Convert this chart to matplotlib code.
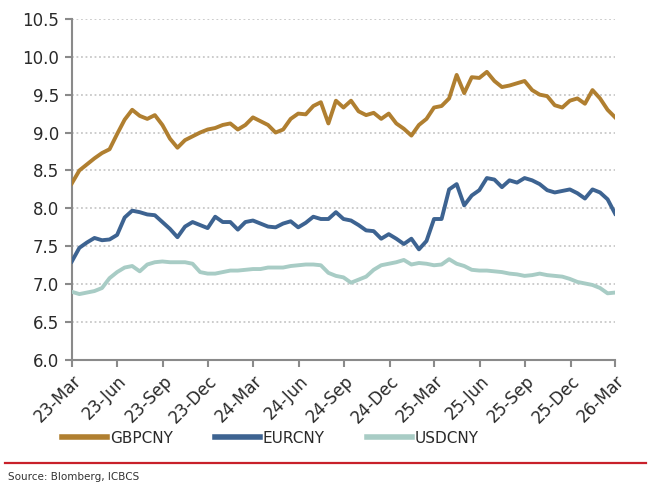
import numpy as np
import pandas as pd
import matplotlib
matplotlib.use("Agg")
import matplotlib.pyplot as plt
import matplotlib.dates as mdates
from matplotlib.ticker import FormatStrFormatter
from matplotlib.lines import Line2D

# semi-monthly fixings, Mar-2023 .. Mar-2026
dates = pd.date_range("2023-03-15", "2026-03-15", periods=73)

gbpcny = [8.33, 8.50, 8.58, 8.66, 8.73, 8.78, 8.98, 9.17, 9.30, 9.22,
          9.18, 9.23, 9.10, 8.92, 8.80, 8.90, 8.95, 9.00, 9.04, 9.06,
          9.10, 9.12, 9.04, 9.10, 9.20, 9.15, 9.10, 9.00, 9.04, 9.18,
          9.25, 9.24, 9.35, 9.40, 9.12, 9.42, 9.33, 9.42, 9.28, 9.23,
          9.26, 9.18, 9.25, 9.12, 9.05, 8.96, 9.10, 9.18, 9.33, 9.35,
          9.45, 9.76, 9.52, 9.73, 9.72, 9.80, 9.68, 9.60, 9.62, 9.65,
          9.68, 9.56, 9.50, 9.48, 9.36, 9.33, 9.42, 9.45, 9.38, 9.56,
          9.45, 9.30, 9.20]

eurcny = [7.30, 7.48, 7.55, 7.61, 7.58, 7.59, 7.65, 7.88, 7.97, 7.95,
          7.92, 7.91, 7.82, 7.73, 7.62, 7.76, 7.82, 7.78, 7.74, 7.89,
          7.82, 7.82, 7.72, 7.82, 7.84, 7.80, 7.76, 7.75, 7.80, 7.83,
          7.75, 7.81, 7.89, 7.86, 7.86, 7.95, 7.86, 7.84, 7.78, 7.71,
          7.70, 7.60, 7.66, 7.60, 7.53, 7.60, 7.46, 7.57, 7.86, 7.86,
          8.25, 8.32, 8.04, 8.17, 8.24, 8.40, 8.38, 8.28, 8.37, 8.34,
          8.40, 8.37, 8.32, 8.24, 8.21, 8.23, 8.25, 8.20, 8.13, 8.25,
          8.21, 8.12, 7.93]

usdcny = [6.90, 6.87, 6.89, 6.91, 6.95, 7.08, 7.16, 7.22, 7.24, 7.17,
          7.26, 7.29, 7.30, 7.29, 7.29, 7.29, 7.27, 7.16, 7.14, 7.14,
          7.16, 7.18, 7.18, 7.19, 7.20, 7.20, 7.22, 7.22, 7.22, 7.24,
          7.25, 7.26, 7.26, 7.25, 7.15, 7.11, 7.09, 7.02, 7.06, 7.10,
          7.19, 7.25, 7.27, 7.29, 7.32, 7.26, 7.28, 7.27, 7.25, 7.26,
          7.33, 7.27, 7.24, 7.19, 7.18, 7.18, 7.17, 7.16, 7.14, 7.13,
          7.11, 7.12, 7.14, 7.12, 7.11, 7.10, 7.07, 7.03, 7.01, 6.99,
          6.95, 6.88, 6.89]

series = {"GBPCNY": (gbpcny, "#B07F30"),
          "EURCNY": (eurcny, "#3D6391"),
          "USDCNY": (usdcny, "#A8CCC5")}

fig = plt.figure(figsize=(6.53, 4.82), dpi=100)
ax = fig.add_axes([0.110, 0.253, 0.832, 0.708])

for name, (vals, col) in series.items():
    ax.plot(dates, vals, color=col, lw=2.8, solid_joinstyle="round", zorder=3)

ax.set_ylim(6.0, 10.5)
ax.set_yticks(np.arange(6.0, 10.51, 0.5))
ax.yaxis.set_major_formatter(FormatStrFormatter("%.1f"))
ax.set_xlim(dates[0], dates[-1])
ax.xaxis.set_major_locator(mdates.MonthLocator(bymonth=[3, 6, 9, 12], bymonthday=15))
ax.xaxis.set_major_formatter(mdates.DateFormatter("%y-%b"))

ax.grid(axis="y", linestyle=(0, (1, 1.5)), color="#c8c8c8", lw=1.3, zorder=1)
for s in ["top", "right"]:
    ax.spines[s].set_visible(False)
for s in ["left", "bottom"]:
    ax.spines[s].set_color("#8a8a8a")
    ax.spines[s].set_linewidth(1.5)
ax.tick_params(axis="both", color="#8a8a8a", width=1.5, length=5,
               labelcolor="#2a2a2a", labelsize=12)
ax.tick_params(axis="y", pad=4)
plt.setp(ax.get_xticklabels(), rotation=45, ha="right", rotation_mode="anchor")

handles = [Line2D([], [], color=c, lw=4) for _, c in series.values()]
fig.legend(handles, list(series.keys()), loc="center", ncol=3,
           bbox_to_anchor=(0.414, 0.091), frameon=False, fontsize=11,
           handlelength=2.95, handletextpad=0.2, columnspacing=2.75,
           labelcolor="#2a2a2a")

fig.add_artist(Line2D([0.008, 0.99], [0.040, 0.040], color="#C8202A", lw=1.6))
fig.text(0.012, 0.004, "Source: Blomberg, ICBCS", fontsize=7.5, color="#333333")

fig.savefig("out.png", dpi=100)
